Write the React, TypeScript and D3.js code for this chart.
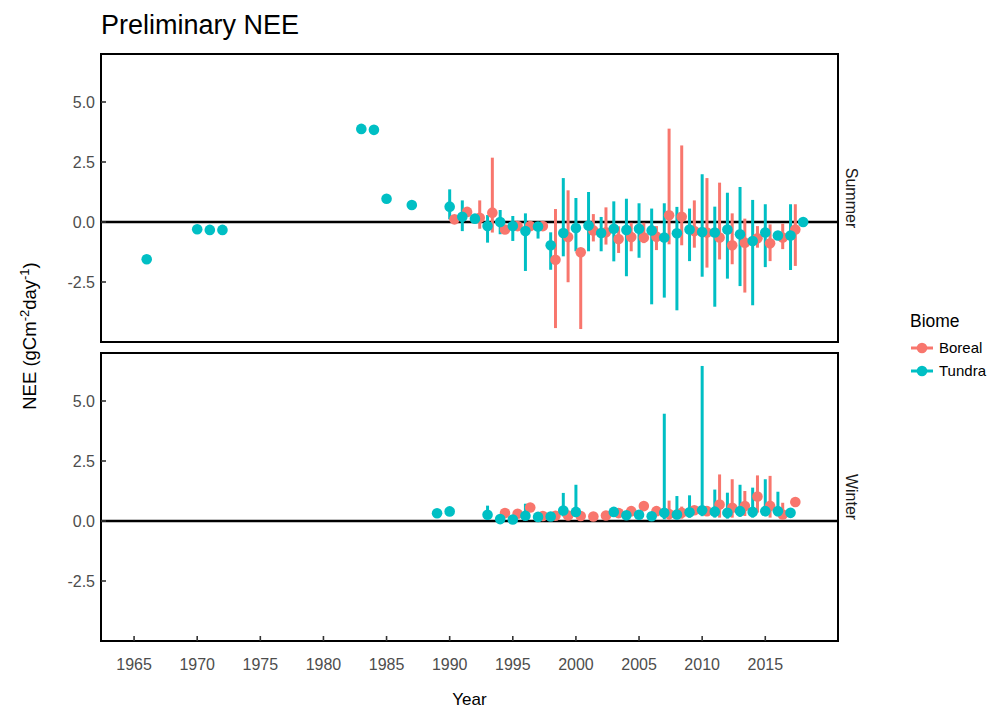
import React, { useEffect, useRef } from "react";
import * as d3 from "d3";

// rows are [year, NEE, lower, upper]; lower/upper null where no range is drawn
const summerBoreal = [
  [1990, 0.11, null, null],
  [1991, 0.42, null, null],
  [1992, 0.18, -0.28, 0.9],
  [1993, 0.39, -0.44, 2.68],
  [1994, -0.31, null, null],
  [1995, -0.17, null, null],
  [1996, -0.17, null, null],
  [1997, -0.17, null, null],
  [1998, -1.57, -4.42, 0.54],
  [1999, -0.63, -2.51, 1.32],
  [2000, -1.26, -4.46, -1.1],
  [2001, -0.35, -0.81, 0.33],
  [2002, -0.43, -0.94, 0.61],
  [2003, -0.71, -1.29, -0.18],
  [2004, -0.63, -1.22, -0.03],
  [2005, -0.65, -0.88, -0.03],
  [2006, -0.61, -1.17, -0.17],
  [2007, 0.28, -0.93, 3.89],
  [2008, 0.22, -0.97, 3.19],
  [2009, -0.38, -1.07, 0.9],
  [2010, -0.44, -1.9, 1.83],
  [2011, -0.65, -1.56, 1.64],
  [2012, -0.97, -1.76, 0.36],
  [2013, -0.86, -2.94, 0.14],
  [2014, -0.68, -1.07, -0.17],
  [2015, -0.89, -1.63, -0.1],
  [2016, -0.65, -1.13, -0.07],
  [2017, -0.31, -1.83, 0.74],
];

const summerTundra = [
  [1966, -1.55, null, null],
  [1970, -0.3, null, null],
  [1971, -0.33, null, null],
  [1972, -0.33, null, null],
  [1983, 3.88, null, null],
  [1984, 3.84, null, null],
  [1985, 0.97, null, null],
  [1987, 0.71, null, null],
  [1990, 0.64, 0.11, 1.36],
  [1991, 0.22, -0.38, 0.9],
  [1992, 0.14, null, null],
  [1993, -0.17, -0.86, 0.29],
  [1994, 0.0, -0.51, 0.5],
  [1995, -0.17, -0.79, 0.25],
  [1996, -0.38, -2.04, 0.36],
  [1997, -0.19, -0.69, 0.0],
  [1998, -0.97, -1.99, -0.43],
  [1999, -0.46, -1.43, 1.83],
  [2000, -0.25, -1.22, 1.0],
  [2001, -0.15, -1.22, 1.25],
  [2002, -0.46, -1.22, 0.21],
  [2003, -0.28, -1.64, 0.86],
  [2004, -0.33, -2.26, 0.97],
  [2005, -0.28, -1.49, 0.78],
  [2006, -0.35, -3.43, 0.56],
  [2007, -0.65, -3.15, 0.78],
  [2008, -0.47, -3.68, 0.63],
  [2009, -0.31, -1.63, 0.56],
  [2010, -0.42, -2.28, 1.99],
  [2011, -0.44, -3.53, 0.64],
  [2012, -0.31, -2.36, 1.22],
  [2013, -0.51, -2.67, 1.46],
  [2014, -0.79, -3.47, 0.92],
  [2015, -0.44, -1.88, 0.74],
  [2016, -0.56, null, null],
  [2017, -0.56, -2.0, 0.74],
  [2018, 0.0, null, null],
];

const winterBoreal = [
  [1994, 0.33, null, null],
  [1995, 0.3, null, null],
  [1996, 0.56, null, null],
  [1997, 0.21, null, null],
  [1998, 0.22, null, null],
  [1999, 0.23, null, null],
  [2000, 0.21, null, null],
  [2001, 0.19, null, null],
  [2002, 0.23, null, null],
  [2003, 0.33, null, null],
  [2004, 0.41, 0.2, 0.6],
  [2005, 0.62, null, null],
  [2006, 0.41, 0.22, 0.6],
  [2007, 0.29, 0.05, 0.85],
  [2008, 0.34, 0.1, 0.6],
  [2009, 0.45, null, null],
  [2010, 0.41, null, null],
  [2011, 0.69, 0.14, 1.94],
  [2012, 0.55, 0.14, 1.74],
  [2013, 0.62, 0.21, 1.25],
  [2014, 1.02, 0.35, 1.9],
  [2015, 0.63, 0.14, 1.88],
  [2016, 0.27, 0.14, 0.76],
  [2017, 0.79, null, null],
];

const winterTundra = [
  [1989, 0.32, null, null],
  [1990, 0.4, null, null],
  [1993, 0.26, 0.06, 0.64],
  [1994, 0.08, -0.08, 0.22],
  [1995, 0.06, -0.11, 0.19],
  [1996, 0.22, 0.06, 0.72],
  [1997, 0.17, null, null],
  [1998, 0.19, null, null],
  [1999, 0.44, 0.19, 1.17],
  [2000, 0.38, 0.17, 1.51],
  [2003, 0.38, null, null],
  [2004, 0.24, null, null],
  [2005, 0.26, null, null],
  [2006, 0.2, null, null],
  [2007, 0.34, 0.07, 4.47],
  [2008, 0.27, 0.07, 1.04],
  [2009, 0.36, 0.14, 1.07],
  [2010, 0.45, 0.2, 6.46],
  [2011, 0.39, 0.14, 1.31],
  [2012, 0.34, 0.1, 1.18],
  [2013, 0.41, 0.17, 1.51],
  [2014, 0.38, 0.14, 1.39],
  [2015, 0.41, 0.2, 1.74],
  [2016, 0.41, 0.2, 1.22],
  [2017, 0.34, null, null],
];

const seasons = ["Summer", "Winter"];
const biomes = ["Boreal", "Tundra"];
const biomeColors = ["#F8766D", "#00BFC4"];
const biomeDodge = [0.38, 0];
const xTicks = [1965, 1970, 1975, 1980, 1985, 1990, 1995, 2000, 2005, 2010, 2015];
const yTicks = [-2.5, 0, 2.5, 5];

const font = "'Liberation Sans', Arial, Helvetica, sans-serif";

const App = () => {
  const ref = useRef(null);

  useEffect(() => {
    makeChart();
  }, []);

  const makeChart = () => {
    const width = 990;
    const height = 708;
    const left = 101;
    const right = 838;
    const panelH = 288;
    const panelTops = [54, 353];

    const svg = d3.select(ref.current);
    svg.selectAll("*").remove();
    svg.attr("width", width).attr("height", height).style("font-family", font);

    const x = d3.scaleLinear().domain([1962.38, 2020.76]).range([left, right]);

    const panelData = [
      [summerBoreal, summerTundra],
      [winterBoreal, winterTundra],
    ];

    seasons.forEach((season, si) => {
      const top = panelTops[si];
      const y = d3.scaleLinear().domain([-5, 7]).range([top + panelH, top]);
      const g = svg.append("g");

      // zero line
      g.append("line")
        .attr("x1", left)
        .attr("x2", right)
        .attr("y1", y(0))
        .attr("y2", y(0))
        .attr("stroke", "black")
        .attr("stroke-width", 2.6);

      // ranges first, then points
      panelData[si].forEach((rows, bi) => {
        g.append("g")
          .selectAll("line")
          .data(rows.filter((d) => d[2] !== null))
          .join("line")
          .attr("x1", (d) => x(d[0] + biomeDodge[bi]))
          .attr("x2", (d) => x(d[0] + biomeDodge[bi]))
          .attr("y1", (d) => y(d[2]))
          .attr("y2", (d) => y(d[3]))
          .attr("stroke", biomeColors[bi])
          .attr("stroke-width", 3);
      });
      panelData[si].forEach((rows, bi) => {
        g.append("g")
          .selectAll("circle")
          .data(rows)
          .join("circle")
          .attr("cx", (d) => x(d[0] + biomeDodge[bi]))
          .attr("cy", (d) => y(d[1]))
          .attr("r", 5.3)
          .attr("fill", biomeColors[bi]);
      });

      // panel border
      g.append("rect")
        .attr("x", left)
        .attr("y", top)
        .attr("width", right - left)
        .attr("height", panelH)
        .attr("fill", "none")
        .attr("stroke", "black")
        .attr("stroke-width", 2);

      // y axis
      yTicks.forEach((t) => {
        g.append("line")
          .attr("x1", left)
          .attr("x2", left + 5)
          .attr("y1", y(t))
          .attr("y2", y(t))
          .attr("stroke", "#333")
          .attr("stroke-width", 1.6);
        g.append("text")
          .attr("x", left - 6)
          .attr("y", y(t))
          .attr("dy", "0.36em")
          .attr("text-anchor", "end")
          .attr("font-size", 16)
          .attr("fill", "#4d4d4d")
          .text(t.toFixed(1));
      });

      // strip label
      g.append("text")
        .attr("transform", `translate(852, ${top + panelH / 2}) rotate(90)`)
        .attr("dy", "0.36em")
        .attr("text-anchor", "middle")
        .attr("font-size", 16)
        .attr("fill", "#1a1a1a")
        .text(season);

      // x axis on the bottom panel only
      if (si === seasons.length - 1) {
        xTicks.forEach((t) => {
          g.append("line")
            .attr("x1", x(t))
            .attr("x2", x(t))
            .attr("y1", top + panelH)
            .attr("y2", top + panelH - 5)
            .attr("stroke", "#333")
            .attr("stroke-width", 1.6);
          g.append("text")
            .attr("x", x(t))
            .attr("y", top + panelH + 29)
            .attr("text-anchor", "middle")
            .attr("font-size", 16)
            .attr("fill", "#4d4d4d")
            .text(t);
        });
      }
    });

    // title
    svg.append("text")
      .attr("x", left)
      .attr("y", 34)
      .attr("font-size", 27)
      .attr("fill", "black")
      .text("Preliminary NEE");

    // x title
    svg.append("text")
      .attr("x", (left + right) / 2)
      .attr("y", 705)
      .attr("text-anchor", "middle")
      .attr("font-size", 17)
      .text("Year");

    // y title with superscripts
    const yt = svg.append("text")
      .attr("transform", "translate(36, 336) rotate(-90)")
      .attr("text-anchor", "middle")
      .attr("font-size", 18.5);
    yt.append("tspan").text("NEE (gCm");
    yt.append("tspan").attr("dy", -7).attr("font-size", 13).text("-2");
    yt.append("tspan").attr("dy", 7).text("day");
    yt.append("tspan").attr("dy", -7).attr("font-size", 13).text("-1");
    yt.append("tspan").attr("dy", 7).text(")");

    // legend
    const lg = svg.append("g");
    lg.append("text")
      .attr("x", 910)
      .attr("y", 327)
      .attr("font-size", 17.5)
      .text("Biome");
    biomes.forEach((b, i) => {
      const ly = 348 + i * 23;
      lg.append("line")
        .attr("x1", 911)
        .attr("x2", 933)
        .attr("y1", ly)
        .attr("y2", ly)
        .attr("stroke", biomeColors[i])
        .attr("stroke-width", 3);
      lg.append("circle")
        .attr("cx", 922)
        .attr("cy", ly)
        .attr("r", 5.3)
        .attr("fill", biomeColors[i]);
      lg.append("text")
        .attr("x", 939)
        .attr("y", ly)
        .attr("dy", "0.36em")
        .attr("font-size", 15)
        .text(b);
    });
  };

  return (
    <div style={{ position: "absolute", left: 0, top: 0 }}>
      <svg ref={ref} />
    </div>
  );
};

export default App;
